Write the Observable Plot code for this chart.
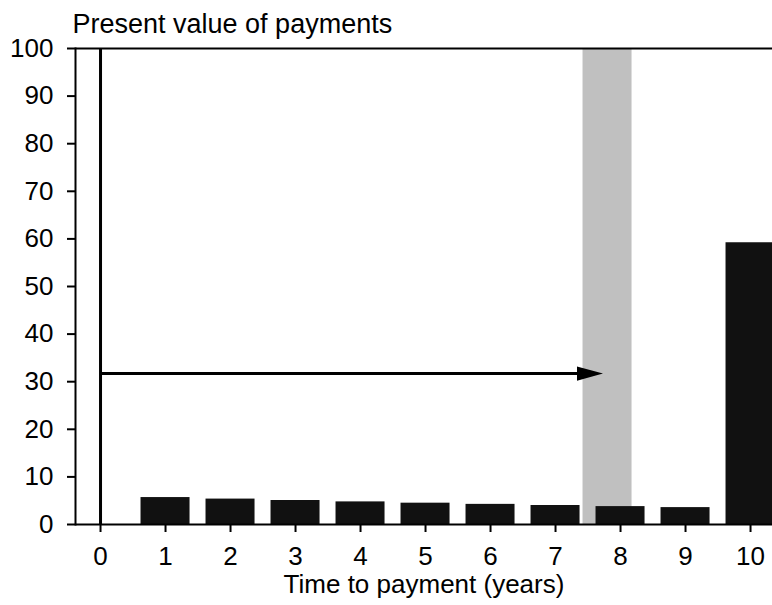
<!DOCTYPE html>
<html>
<head>
<meta charset="utf-8">
<script src="https://cdn.jsdelivr.net/npm/d3@7"></script>
<script src="https://cdn.jsdelivr.net/npm/@observablehq/plot@0.6"></script>
<style>
  html, body { margin: 0; padding: 0; background: #fff; }
</style>
</head>
<body>
<div id="chart"></div>
<script>
// Data
const years = [1, 2, 3, 4, 5, 6, 7, 8, 9, 10];
const presentValues = [5.66, 5.34, 5.04, 4.75, 4.48, 4.23, 3.99, 3.76, 3.55, 59.19];
const xTicks = [0, 1, 2, 3, 4, 5, 6, 7, 8, 9, 10];
const yTicks = [0, 10, 20, 30, 40, 50, 60, 70, 80, 90, 100];
const duration = [7.80];
const arrowY = [31.7];
const arrowEnd = [7.73];
const titleText = "Present value of payments";
const xLabelText = "Time to payment (years)";

const barHalf = 0.377;
const bars = years.map((t, i) => ({t, v: presentValues[i]}));

// right-pointing filled triangle, tip at origin
const rightTriangle = {
  draw(context, size) {
    const s = Math.sqrt(size / Math.PI);
    context.moveTo(0, 0);
    context.lineTo(-2 * s, -0.55 * s);
    context.lineTo(-2 * s, 0.55 * s);
    context.closePath();
  }
};

const font = "'Liberation Sans', Arial, Helvetica, sans-serif";

const chart = Plot.plot({
  width: 772,
  height: 605,
  marginLeft: 75,
  marginRight: 0,
  marginTop: 48,
  marginBottom: 81,
  style: {fontFamily: font, fontSize: "26px", color: "#000", background: "#fff", overflow: "hidden"},
  x: {domain: [-0.385, 10.338], axis: null},
  y: {domain: [0, 100], axis: null},
  marks: [
    Plot.rect(duration, {x1: d => d - barHalf, x2: d => d + barHalf, y1: 0, y2: 100, fill: "#c0c0c0"}),
    Plot.rect(bars, {x1: d => d.t - barHalf, x2: d => d.t + barHalf, y1: 0, y2: "v", fill: "#111111", clip: true}),
    Plot.ruleY([0], {stroke: "#000", strokeWidth: 2}),
    Plot.ruleY([100], {stroke: "#000", strokeWidth: 2}),
    Plot.frame({anchor: "left", stroke: "#000", strokeWidth: 2}),
    Plot.ruleX([0], {y1: 0, y2: 100, stroke: "#000", strokeWidth: 3}),
    Plot.ruleY(arrowY, {x1: 0, x2: arrowEnd[0] - 0.3, stroke: "#000", strokeWidth: 3}),
    Plot.dot(arrowY.map((y, i) => ({x: arrowEnd[i], y})), {x: "x", y: "y", symbol: rightTriangle, r: 13, fill: "#000", stroke: "none"}),
    Plot.axisY({ticks: yTicks, tickSize: 8, tickPadding: 14, strokeWidth: 2, label: null, fontSize: 26}),
    Plot.axisX({ticks: xTicks, tickSize: 8, tickPadding: 14, strokeWidth: 2, label: null, fontSize: 26, tickFormat: d => String(d)}),
    Plot.text([xLabelText], {frameAnchor: "bottom", lineAnchor: "middle", dy: 60, fontSize: 26, fill: "#000"}),
    Plot.text([titleText], {frameAnchor: "top-left", lineAnchor: "middle", textAnchor: "start", dx: -3, dy: -24, fontSize: 27, fill: "#000"})
  ]
});
document.getElementById("chart").appendChild(chart);
</script>
</body>
</html>
